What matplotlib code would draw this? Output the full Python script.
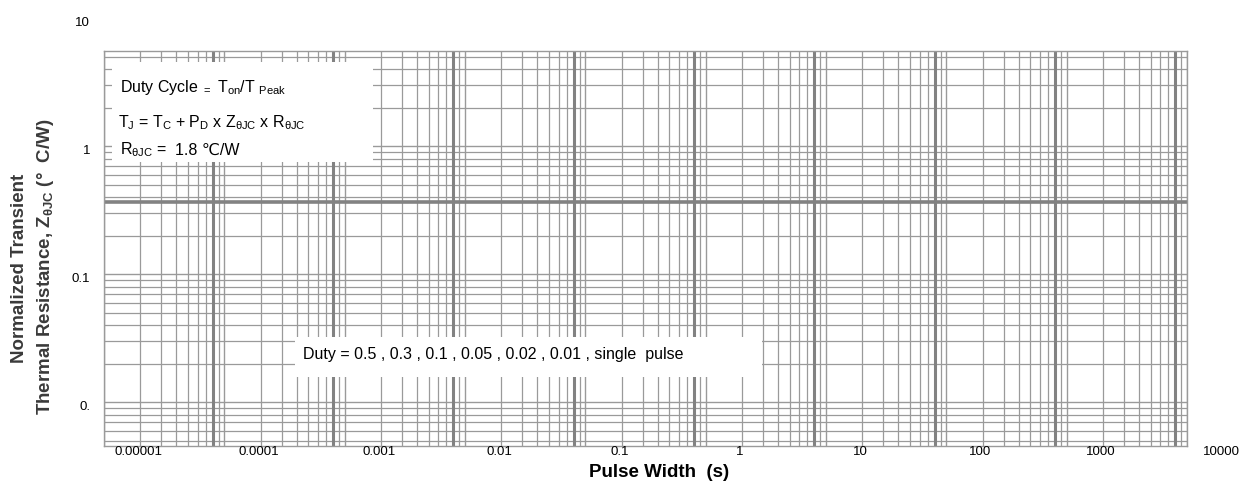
import numpy as np
import matplotlib.pyplot as plt
from matplotlib.ticker import LogLocator, NullFormatter
from matplotlib.patches import Rectangle

plt.rcParams['font.family'] = ['Liberation Sans', 'DejaVu Sans']
plt.rcParams['mathtext.fontset'] = 'custom'
plt.rcParams['mathtext.rm'] = 'Liberation Sans'
plt.rcParams['mathtext.it'] = 'Liberation Sans:italic'
plt.rcParams['mathtext.bf'] = 'Liberation Sans:bold'

# decades of the two log axes and the labels printed on them
x_decades = [1e-5, 1e-4, 1e-3, 1e-2, 1e-1, 1, 10, 100, 1000, 10000]
x_labels = ["0.00001", "0.0001", "0.001", "0.01", "0.1", "1", "10", "100", "1000", "10000"]
y_decades = [10, 1, 0.1, 0.01]
y_labels = ["10", "1", "0.1", "0."]
y_range = [10 ** -2.34, 10 ** 0.745]

duty = [0.5, 0.3, 0.1, 0.05, 0.02, 0.01]
r_jc = 1.8

# heavier lines of the printed grid
heavy_x = [8 * d for d in x_decades[:-1]]
heavy_y = [0.37]

grid_col = '#9a9a9a'
heavy_col = '#828282'
box_fs = 11.5

fig = plt.figure(figsize=(12.42, 4.85), dpi=100)
ax = fig.add_axes([104 / 1242, 38 / 485, 1083 / 1242, 395 / 485])
ax.set_xscale('log')
ax.set_yscale('log')
ax.set_xlim(x_decades[0], x_decades[-1])
ax.set_ylim(*y_range)

for axis in (ax.xaxis, ax.yaxis):
    axis.set_major_locator(LogLocator(base=10, numticks=100))
    axis.set_minor_locator(LogLocator(base=10, subs=np.arange(2, 10), numticks=100))
    axis.set_major_formatter(NullFormatter())
    axis.set_minor_formatter(NullFormatter())
ax.tick_params(which='both', length=0)

ax.set_axisbelow(True)
ax.grid(which='major', color=grid_col, lw=1.0)
ax.grid(which='minor', color=grid_col, lw=0.9)
for v in heavy_x:
    ax.axvline(v, color=heavy_col, lw=2.2, zorder=0.9)
for v in heavy_y:
    ax.axhline(v, color=heavy_col, lw=2.6, zorder=0.9)

for s in ax.spines.values():
    s.set_color(grid_col)
    s.set_linewidth(1.0)

# tick labels
for v, s in zip(x_decades, x_labels):
    ax.annotate(s, xy=(v, 0), xycoords=ax.get_xaxis_transform(),
                xytext=(34, -5), textcoords='offset pixels',
                ha='center', va='center', fontsize=9.5, annotation_clip=False)
for v, s in zip(y_decades, y_labels):
    ax.annotate(s, xy=(0, v), xycoords=ax.get_yaxis_transform(),
                xytext=(-14, -4), textcoords='offset pixels',
                ha='right', va='center', fontsize=9.5, annotation_clip=False)

# note boxes
ax.add_patch(Rectangle((0.0074, 0.719), 0.2406, 0.253, transform=ax.transAxes,
                       facecolor='white', edgecolor='none', zorder=3))
ax.text(0.0148, 0.909, r'Duty Cycle $_=$ T$_{\rm on}$/T $_{\rm Peak}$',
        transform=ax.transAxes, fontsize=box_fs, va='center', zorder=4)
ax.text(0.0129, 0.820,
        r'T$_{\rm J}$ = T$_{\rm C}$ + P$_{\rm D}$ x Z$_{\rm θJC}$ x R$_{\rm θJC}$',
        transform=ax.transAxes, fontsize=box_fs, va='center', zorder=4)
ax.text(0.0148, 0.752, r'R$_{\rm θJC}$ =',
        transform=ax.transAxes, fontsize=box_fs, va='center', zorder=4)
ax.text(0.0656, 0.752, f'{r_jc} ℃/W',
        transform=ax.transAxes, fontsize=box_fs, va='center', zorder=4)

ax.add_patch(Rectangle((0.176, 0.175), 0.432, 0.101, transform=ax.transAxes,
                       facecolor='white', edgecolor='none', zorder=3))
duty_text = 'Duty = ' + ' , '.join(f'{d:g}' for d in duty) + ' , single  pulse'
ax.text(0.184, 0.233, duty_text, transform=ax.transAxes, fontsize=box_fs,
        va='center', zorder=4)

# axis titles
fig.text(659 / 1242, 12 / 485, 'Pulse Width  (s)', ha='center', va='center',
         fontsize=13.5, fontweight='bold')
fig.text(20 / 1242, 217 / 485, 'Normalized Transient', rotation=90,
         ha='center', va='center', fontsize=13.5, fontweight='bold', color='#3a3a3a')
fig.text(46 / 1242, 218 / 485, r'Thermal Resistance, Z$_{\bf θJC}$ (°  C/W)',
         rotation=90, ha='center', va='center', fontsize=13.5, fontweight='bold',
         color='#3a3a3a')

plt.savefig('out.png', dpi=100)
